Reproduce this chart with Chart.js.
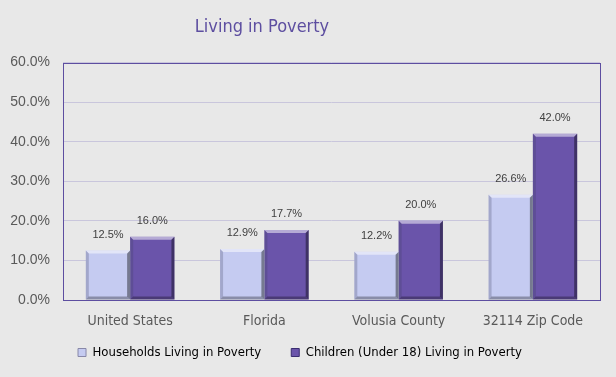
<!DOCTYPE html>
<html><head><meta charset="utf-8">
<script src="https://cdn.jsdelivr.net/npm/chart.js@4/dist/chart.umd.min.js"></script>
<style>html,body{margin:0;padding:0;background:#e8e8e8;}#wrap{width:616px;height:377px;}</style>
</head><body><div id="wrap"><canvas id="c" width="616" height="377"></canvas></div>
<script>
const categories = ["United States", "Florida", "Volusia County", "32114 Zip Code"];
const households = [12.5, 12.9, 12.2, 26.6];
const children = [16.0, 17.7, 20.0, 42.0];
const seriesNames = ["Households Living in Poverty", "Children (Under 18) Living in Poverty"];
const yTicks = [0, 10, 20, 30, 40, 50, 60];

const NARROW = "'DejaVu Sans Condensed', 'Liberation Sans Narrow', 'Liberation Sans', sans-serif";
const FONT = "'Liberation Sans', sans-serif";
const LIGHT = "#c5cbf1", DARK = "#6a54aa";

const layoutTweak = {
  id: 'layoutTweak',
  afterInit(chart) {
    const lg = chart.legend, orig = lg.fit;
    lg.fit = function () { orig.call(this); this.height = 33; };
  },
  afterLayout(chart) {
    chart.legend.top -= 22; chart.legend.bottom = chart.height;
    chart.titleBlock.right -= 76;
  }
};

const plotBorder = {
  id: 'plotBorder',
  beforeDraw(chart) {
    const c = chart.ctx;
    c.save(); c.fillStyle = '#e8e8e8'; c.fillRect(0, 0, chart.width, chart.height); c.restore();
  },
  afterDatasetsDraw(chart) {
    const c = chart.ctx, a = chart.chartArea;
    chart.data.datasets.forEach((ds, di) => {
      chart.getDatasetMeta(di).data.forEach((bar, i) => {
        const l = bar.x - bar.width / 2, r = bar.x + bar.width / 2, t = bar.y, b = bar.base;
        const bw = 3;
        c.save();
        c.fillStyle = 'rgba(255,255,255,0.5)';
        c.beginPath(); c.moveTo(l, t); c.lineTo(r, t); c.lineTo(r - bw, t + bw); c.lineTo(l + bw, t + bw); c.fill();
        c.fillStyle = 'rgba(60,60,90,0.25)';
        c.beginPath(); c.moveTo(l, t); c.lineTo(l + bw, t + bw); c.lineTo(l + bw, b - bw); c.lineTo(l, b); c.fill();
        c.fillStyle = 'rgba(0,0,0,0.4)';
        c.beginPath(); c.moveTo(r, t); c.lineTo(r, b); c.lineTo(r - bw, b - bw); c.lineTo(r - bw, t + bw); c.fill();
        c.fillStyle = 'rgba(0,0,0,0.3)';
        c.beginPath(); c.moveTo(l, b); c.lineTo(r, b); c.lineTo(r - bw, b - bw); c.lineTo(l + bw, b - bw); c.fill();
        c.restore();
        c.save();
        c.font = "11px " + FONT;
        c.fillStyle = '#404040';
        c.textAlign = 'center'; c.textBaseline = 'bottom';
        c.fillText(ds.data[i].toFixed(1) + '%', bar.x, t - 10);
        c.restore();
      });
    });
    c.save();
    c.strokeStyle = '#5d4ea0'; c.lineWidth = 1;
    c.strokeRect(Math.round(a.left) + 0.5, Math.round(a.top) + 0.5, Math.round(a.right - a.left), Math.round(a.bottom - a.top));
    c.restore();
  }
};

new Chart(document.getElementById('c'), {
  type: 'bar',
  data: {
    labels: categories,
    datasets: [
      { label: seriesNames[0], data: households, backgroundColor: LIGHT },
      { label: seriesNames[1], data: children, backgroundColor: DARK }
    ]
  },
  options: {
    responsive: false, animation: false,
    layout: { padding: { left: 0, right: 16, top: 0, bottom: 6 } },
    barPercentage: 1.0, categoryPercentage: 0.66,
    plugins: {
      title: { display: true, text: 'Living in Poverty', color: '#5d4ea0',
        font: { family: NARROW, size: 18, weight: 'normal' }, padding: { top: 17, bottom: 24 } },
      legend: { position: 'bottom',
        labels: { color: '#222', font: { family: NARROW, size: 13 }, boxWidth: 8, boxHeight: 8, padding: 30,
          generateLabels(chart) {
            return chart.data.datasets.map((d, i) => ({ text: d.label, fillStyle: d.backgroundColor, strokeStyle: i ? '#3a2d70' : '#8888a8', lineWidth: 1, datasetIndex: i }));
          } } },
      tooltip: { enabled: false }
    },
    scales: {
      x: { grid: { display: false }, border: { display: false }, afterFit(s) { s.height = 38; },
        ticks: { color: '#595959', font: { family: NARROW, size: 14 }, padding: 5 } },
      y: { min: 0, max: 60, afterFit(s) { s.width = 63; },
        afterBuildTicks(s) { s.ticks = yTicks.map(v => ({ value: v })); },
        grid: { color: '#c9c6dc', drawTicks: false }, border: { display: false },
        ticks: { color: '#595959', font: { family: FONT, size: 14 }, padding: 13,
          callback: v => v.toFixed(1) + '%' } }
    }
  },
  plugins: [layoutTweak, plotBorder]
});
</script></body></html>
